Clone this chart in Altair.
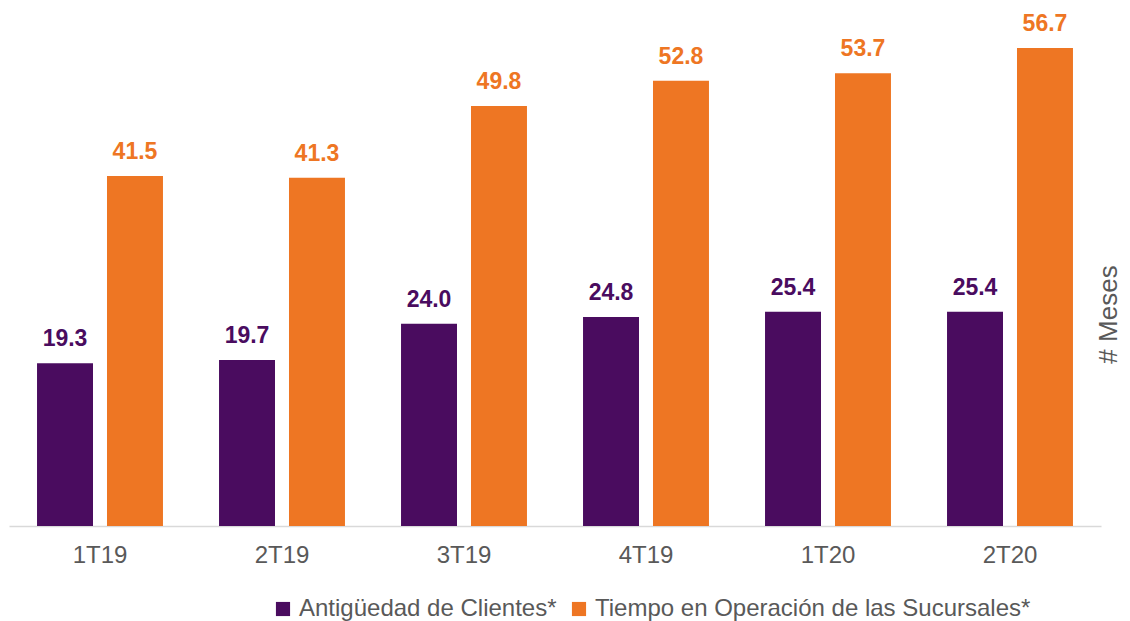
import altair as alt
import pandas as pd

quarters = ["1T19", "2T19", "3T19", "4T19", "1T20", "2T20"]
series = ["Antigüedad de Clientes*", "Tiempo en Operación de las Sucursales*"]
antiguedad = [19.3, 19.7, 24.0, 24.8, 25.4, 25.4]
tiempo = [41.5, 41.3, 49.8, 52.8, 53.7, 56.7]
colors = ["#4A0C5F", "#EE7623"]

rows = []
for q, a, t in zip(quarters, antiguedad, tiempo):
    rows.append({"q": q, "s": series[0], "v": a})
    rows.append({"q": q, "s": series[1], "v": t})
df = pd.DataFrame(rows)

FONT = "Liberation Sans"
GRAY = "#595959"

x = alt.X("q:N", sort=quarters, title=None,
          scale=alt.Scale(paddingInner=0.308, paddingOuter=0.154),
          axis=alt.Axis(labelAngle=0, labelFont=FONT, labelFontSize=24, labelColor=GRAY,
                        ticks=False, tickSize=0, labelPadding=17, domainColor="#D9D9D9",
                        domainWidth=1.5, grid=False))
xo = alt.XOffset("s:N", sort=series, scale=alt.Scale(paddingInner=0.2))
y = alt.Y("v:Q", scale=alt.Scale(domain=[0, 61.2], nice=False),
          axis=alt.Axis(orient="right", title="# Meses", labels=False, ticks=False,
                        domain=False, grid=False, titleFont=FONT, titleFontSize=26,
                        titleFontWeight="normal", titleColor=GRAY, titleAngle=270,
                        titleX=15, titleY=304, titleAlign="center",
                        titleBaseline="alphabetic"))
color_scale = alt.Scale(domain=series, range=colors)

bars = alt.Chart(df).mark_bar().encode(
    x=x, xOffset=xo, y=y,
    color=alt.Color("s:N", scale=color_scale, sort=series, title=None,
                    legend=alt.Legend(orient="none", legendX=262, legendY=587,
                                      direction="horizontal", symbolType="square",
                                      symbolSize=200, symbolStrokeWidth=0,
                                      labelFont=FONT, labelFontSize=24, labelColor=GRAY,
                                      labelOffset=4, columnPadding=10, labelLimit=600)),
)

labels = alt.Chart(df).mark_text(font=FONT, fontSize=23, fontWeight="bold",
                                 baseline="alphabetic", dy=-17).encode(
    x=x, xOffset=xo, y=y,
    text=alt.Text("v:Q", format=".1f"),
    color=alt.Color("s:N", scale=color_scale, sort=series, legend=None),
)

chart = (bars + labels).properties(
    width=1092, height=516,
    autosize=alt.AutoSizeParams(type="none"),
    padding={"left": 1, "top": 2, "right": 21, "bottom": 95},
).configure(background="white").configure_view(stroke=None, strokeWidth=0)

chart.save("out.html", embed_options={"renderer": "svg", "actions": False})
